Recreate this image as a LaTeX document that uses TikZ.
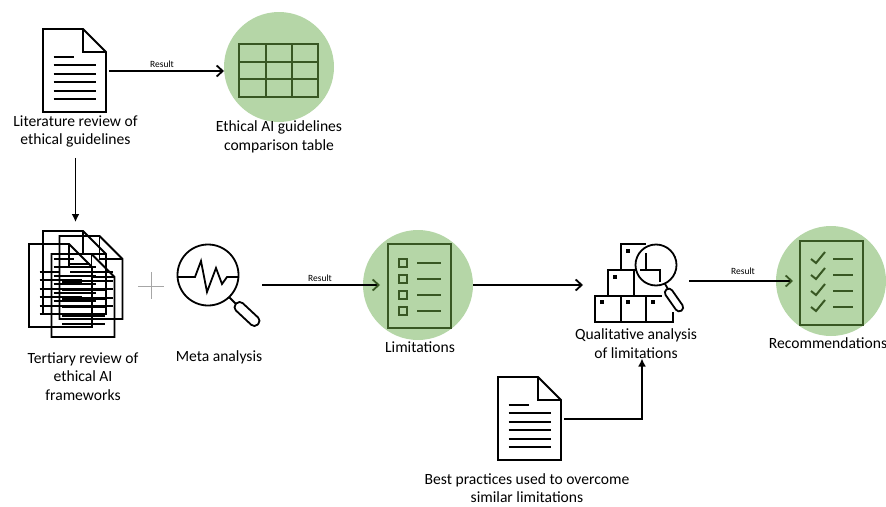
\documentclass[tikz,border=0pt]{standalone}
\usepackage{fontspec}
\setmainfont{Carlito}
\usetikzlibrary{arrows.meta,calc}
\definecolor{discgreen}{HTML}{B5D6A7}
\definecolor{darkgreen}{HTML}{385723}
\tikzset{
  label/.style={align=center,font=\fontsize{15.6}{18.7}\selectfont,inner sep=0pt},
  resultlabel/.style={font=\fontsize{9.5}{10}\selectfont,inner sep=0pt},
  disc/.style={circle,fill=discgreen,minimum size=110pt,inner sep=0pt,outer sep=0pt},
  page/.style={draw=darkgreen,line width=2pt,minimum width=63pt,minimum height=84pt,inner sep=0pt,outer sep=0pt},
  ghost/.style={inner sep=0pt,outer sep=0pt},
  inkline/.style={line width=1.8pt,line join=miter},
  greenline/.style={draw=darkgreen,line width=2pt},
  flow/.style={line width=1.8pt,-{Straight Barb[length=6pt,width=11pt,line width=1.8pt]}},
  greenflow/.style={line width=1.8pt,-{Straight Barb[length=6pt,width=11pt,line width=1.8pt,color=darkgreen]}},
  solidflow/.style={line width=1.8pt,-{Latex[length=8pt,width=8pt]}},
  pics/docpage/.style={code={
    \node[ghost,minimum width=63pt,minimum height=83pt] (-box) at (0,0) {};
    \draw[inkline] (-31.5,-42) -- (8.5,-42) -- (31.5,-19) -- (31.5,41) -- (-31.5,41) -- cycle;
    \draw[inkline] (8.5,-42) -- (8.5,-19) -- (31.5,-19);
    \draw[inkline] (-21,-14) -- (-1,-14);
    \foreach \ly in {-6,3,11,20,28} {
      \draw[inkline] (-21,\ly) -- (21.5,\ly);
    }
  }}
}
\begin{document}
\begin{tikzpicture}[x=1pt,y=-1pt]
  \useasboundingbox (0,0) rectangle (886,506);

  % Kreise
  \node[disc] (tabledisc) at (279,67) {};
  \node[disc] (limitdisc) at (418,285) {};
  \node[disc] (recdisc) at (831,281) {};

  % Dokumente
  \pic (litdoc) at (74.5,71) {docpage};
  \pic (bestdoc) at (529.5,419) {docpage};
  \pic at (74.5,273) {docpage};
  \pic at (91,278) {docpage};
  \pic at (60.5,286) {docpage};
  \pic at (83,296) {docpage};
  \node[ghost,minimum width=93pt,minimum height=107pt] (stackbox) at (75.5,284.5) {};

  % Plus
  \draw[gray!70,line width=0.8pt] (138,286) -- (164,286) (151,272) -- (151,299);

  % Tabelle
  \node[page,minimum width=79pt,minimum height=53pt] (tablegrid) at (278.5,70.5) {};
  \draw[greenline] (266,44) -- (266,97) (292,44) -- (292,97) (239,62) -- (318,62) (239,79) -- (318,79);

  % Lupe mit Puls
  \node[ghost,minimum width=84pt,minimum height=84pt] (metabox) at (220,285.5) {};
  \draw[inkline] (208,275) circle[radius=30.5];
  \draw[inkline] (178,277) -- (195,277) -- (201,261) -- (207,292) -- (216,268) -- (222,284) -- (227,277) -- (238,277);
  \draw[inkline] (229,297) -- (236,304);
  \draw[inkline,rotate around={-43:(247,314)},rounded corners=4.5pt] (232,309) rectangle (262,319);

  % Liste
  \node[page] (listbox) at (419.5,285.5) {};
  \foreach \ly in {263,279,295,311} {
    \draw[greenline] (399,\ly-4) rectangle (407,\ly+4);
    \draw[greenline] (417,\ly) -- (441,\ly);
  }

  % Haken
  \node[page] (checkbox) at (831.5,283) {};
  \foreach \ly in {259,275,291,307} {
    \draw[greenline] (811,\ly) -- (816,\ly+4) -- (825,\ly-7);
    \draw[greenline] (833,\ly) -- (853,\ly);
  }

  % Kisten mit Lupe
  \node[ghost,minimum width=91pt,minimum height=78pt] (pilebox) at (640.5,283) {};
  \draw[inkline] (662,296) -- (595,296) -- (595,322) -- (673,322) -- (673,312);
  \draw[inkline] (621,296) -- (621,322) (646,296) -- (646,322);
  \draw[inkline] (608,296) -- (608,270) -- (636,270) (634,270) -- (634,296);
  \draw[inkline] (621,270) -- (621,244) -- (646,244);
  \draw[inkline] (646,253) -- (646,270) (640,270) -- (660,270) -- (660,282);
  \foreach \bx/\by in {628/251,615/277,602/302,628/302,653/302} {
    \fill (\bx-2,\by-2) rectangle (\bx+2,\by+2);
  }
  \draw[inkline] (656,265) circle[radius=20.5];
  \draw[inkline] (665,284) -- (668,289);
  \draw[inkline,rotate around={-55:(674,300)},rounded corners=4pt] (661,296) rectangle (687,304);

  % Beschriftungen
  \node[label] (litlabel) at (75.5,131.5) {Literature review of\\ethical guidelines};
  \node[label] (tablelabel) at (279,137) {Ethical AI guidelines\\comparison table};
  \node[label] (stacklabel) at (83,376.5) {Tertiary review of\\ethical AI\\frameworks};
  \node[label] (metalabel) at (219,357.5) {Meta analysis};
  \node[label] (limitlabel) at (420,347.5) {Limitations};
  \node[label] (pilelabel) at (636,343.5) {Qualitative analysis\\of limitations};
  \node[label] (reclabel) at (828,343.5) {Recommendations};
  \node[label] (bestlabel) at (527,488) {Best practices used to overcome\\similar limitations};

  % Pfeile
  \draw[flow,shorten <=3pt] (litdoc-box.east) -- (litdoc-box.east -| tabledisc.west);
  \draw[solidflow,shorten <=10pt,shorten >=9pt] (litlabel.south) -- (stackbox.north);
  \draw[greenflow,shorten >=8pt] (metabox.east |- limitdisc.center) -- (listbox.west |- limitdisc.center);
  \draw[flow,shorten >=12pt] (limitdisc.east) -- (limitdisc.east -| pilebox.west);
  \draw[greenflow,shorten <=3pt,shorten >=7pt] (pilebox.east |- recdisc.center) -- (checkbox.west |- recdisc.center);
  \draw[solidflow,shorten <=3pt] (bestdoc-box.east) -| ([xshift=6pt]pilelabel.south);

  % Result
  \node[resultlabel] (tableresult) at (162,64) {Result};
  \node[resultlabel] (limitresult) at (320,278) {Result};
  \node[resultlabel] (recresult) at (743,271) {Result};
\end{tikzpicture}
\end{document}
